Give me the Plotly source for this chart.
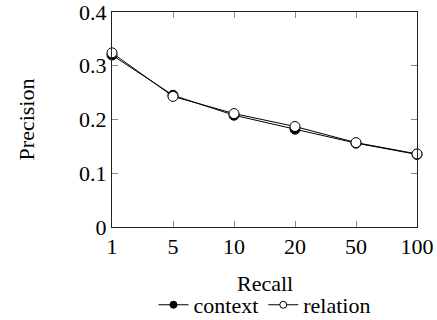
import plotly.graph_objects as go

recall_labels = ["1", "5", "10", "20", "50", "100"]
context = [0.320, 0.245, 0.208, 0.182, 0.156, 0.135]
relation = [0.324, 0.243, 0.211, 0.187, 0.157, 0.136]
y_ticks = [0, 0.1, 0.2, 0.3, 0.4]
y_tick_labels = ["0", "0.1", "0.2", "0.3", "0.4"]
series = [("context", context, "black"), ("relation", relation, "white")]

xpos = list(range(len(recall_labels)))
FONT = "Liberation Serif"
FS = 22

fig = go.Figure()
for name, vals, fill in series:
    fig.add_trace(go.Scatter(
        x=xpos, y=vals, name=name, mode="lines+markers", showlegend=False,
        line=dict(color="black", width=1),
        marker=dict(symbol="circle", size=10, color=fill, line=dict(color="black", width=1)),
        cliponaxis=False,
    ))
for name, vals, fill in series:
    fig.add_trace(go.Scatter(
        x=[None], y=[None], name=name, mode="lines+markers", showlegend=True,
        line=dict(color="black", width=1),
        marker=dict(symbol="circle", size=7, color=fill, line=dict(color="black", width=1)),
    ))

axis_common = dict(
    showgrid=False, zeroline=False, showline=True, linecolor="#222", linewidth=1,
    mirror="ticks", ticks="inside", ticklen=6, tickcolor="#888", tickwidth=1,
    tickfont=dict(family=FONT, size=FS, color="black"), automargin=False,
    ticklabeloverflow="allow",
)
fig.update_layout(
    width=437, height=320,
    margin=dict(l=112, r=20, t=12, b=93),
    paper_bgcolor="white", plot_bgcolor="white",
    font=dict(family=FONT, size=FS, color="black"),
    showlegend=True,
    legend=dict(orientation="h", x=0.5, xanchor="center", xref="paper",
                y=0.047, yanchor="middle", yref="container",
                font=dict(family=FONT, size=FS), tracegroupgap=0,
                bgcolor="rgba(0,0,0,0)"),
    xaxis=dict(axis_common, range=[0, 5], tickvals=xpos, ticktext=recall_labels),
    yaxis=dict(axis_common, range=[0, 0.4], tickvals=y_ticks, ticktext=y_tick_labels,
               title=dict(text="Precision", standoff=38, font=dict(family=FONT, size=FS))),
    annotations=[dict(text="Recall", xref="paper", yref="paper", x=0.5, y=-0.262,
                      xanchor="center", yanchor="middle", showarrow=False,
                      font=dict(family=FONT, size=FS, color="black"))],
)
fig.write_html("out.html")
